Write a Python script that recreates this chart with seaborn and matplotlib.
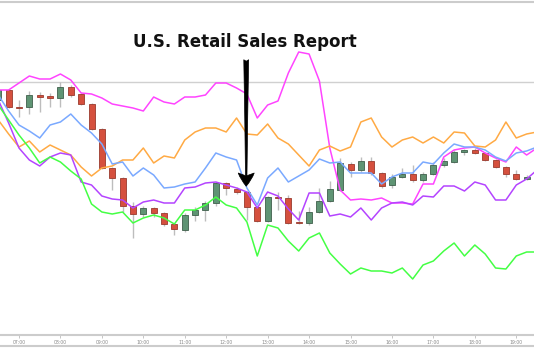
import matplotlib
matplotlib.use("Agg")
import numpy as np
import pandas as pd
import matplotlib.pyplot as plt
import matplotlib.dates as mdates
import seaborn as sns

# 15-minute bars, 06:30 .. 19:30
times = pd.date_range("2013-06-14 06:30", periods=53, freq="15min")

candle_open = [300, 310, 293, 293, 305, 304, 302, 313, 306, 296,
               271, 232, 222, 194, 186, 192, 187, 176, 170, 185,
               190, 197, 217, 211, 208, 193, 179, 203, 202, 178,
               177, 188, 199, 210, 236, 230, 239, 227, 215, 223,
               226, 220, 226, 235, 238, 248, 250, 247, 240, 233,
               226, 221]
candle_close = [310, 293, 292, 305, 303, 302, 313, 305, 296, 271,
                232, 222, 194, 186, 192, 187, 176, 171, 185, 190,
                197, 217, 212, 208, 193, 179, 203, 202, 177, 177,
                188, 199, 211, 237, 230, 239, 227, 214, 223, 226,
                220, 226, 235, 239, 248, 250, 247, 240, 233, 226,
                221, 223]
candle_high = [312, 311, 300, 309, 308, 307, 318, 315, 307, 297,
               272, 233, 223, 198, 194, 193, 188, 177, 187, 193,
               199, 218, 218, 213, 209, 194, 204, 208, 205, 189,
               193, 212, 219, 242, 238, 243, 243, 228, 226, 232,
               235, 228, 238, 242, 250, 251, 252, 248, 241, 234,
               230, 225]
candle_low = [298, 292, 283, 286, 288, 293, 293, 303, 295, 270,
              231, 210, 188, 162, 183, 183, 174, 165, 168, 179,
              179, 194, 205, 206, 180, 178, 178, 190, 176, 176,
              175, 187, 198, 209, 223, 228, 225, 212, 212, 222,
              218, 218, 225, 233, 237, 245, 246, 239, 232, 223,
              220, 220]

magenta_line = [310, 310, 317, 324, 321, 321, 326, 320, 307, 306,
                302, 296, 294, 292, 289, 303, 298, 296, 303, 303,
                305, 317, 317, 312, 306, 282, 295, 299, 327, 348,
                346, 319, 252, 210, 200, 201, 200, 202, 197, 197,
                196, 216, 216, 243, 250, 252, 253, 247, 242, 238,
                253, 245, 252]
orange_line = [280, 266, 253, 259, 248, 255, 250, 245, 233, 224,
               232, 234, 240, 240, 252, 237, 244, 242, 260, 268,
               272, 272, 268, 282, 266, 265, 276, 262, 256, 245,
               234, 250, 254, 249, 253, 278, 282, 263, 253, 260,
               263, 257, 263, 257, 268, 267, 254, 253, 260, 278,
               262, 266, 268]
blue_line = [305, 289, 275, 269, 262, 275, 278, 286, 275, 267,
             256, 236, 238, 224, 232, 225, 212, 213, 216, 218,
             232, 247, 243, 240, 212, 195, 222, 232, 218, 224,
             230, 241, 237, 238, 227, 227, 227, 216, 223, 227,
             227, 238, 236, 247, 256, 253, 253, 250, 243, 239,
             247, 249, 253]
purple_line = [300, 277, 252, 240, 234, 243, 247, 245, 218, 215,
               204, 201, 200, 192, 198, 200, 197, 197, 212, 213,
               217, 218, 215, 212, 208, 192, 208, 204, 191, 180,
               207, 207, 184, 186, 183, 192, 180, 192, 197, 198,
               195, 204, 203, 214, 214, 209, 218, 215, 200, 200,
               215, 221, 230]
green_line = [295, 280, 265, 252, 237, 243, 238, 229, 221, 196,
              188, 186, 188, 177, 182, 185, 182, 176, 190, 190,
              195, 203, 195, 192, 178, 144, 175, 172, 159, 149,
              162, 167, 147, 136, 126, 132, 129, 129, 127, 132,
              121, 135, 139, 149, 157, 144, 155, 146, 132, 131,
              144, 148, 148]

level_line = 318
event_time = pd.Timestamp("2013-06-14 12:29")
event_label = "U.S. Retail Sales Report"

series = {
    "magenta": (magenta_line, "#ff44ff"),
    "orange": (orange_line, "#ffaa44"),
    "blue": (blue_line, "#7aa9ff"),
    "purple": (purple_line, "#b444ff"),
    "green": (green_line, "#44ff44"),
}

sns.set_theme(style="white")
plt.rcParams["font.family"] = ["DejaVu Sans"]

fig = plt.figure(figsize=(5.34, 3.61), dpi=100)
ax = fig.add_axes([0, 26 / 361, 1, 333 / 361])

# candles
n = len(candle_open)
o = np.array(candle_open)
c = np.array(candle_close)
up = c >= o
body_color = np.where(up, "#5f9474", "#d5503e")
edge_color = np.where(up, "#3f5f4c", "#9a3a2d")
ax.vlines(times[:n], candle_low, candle_high, color="#bdbdbd", lw=1, zorder=2)
ax.bar(times[:n], c - o, bottom=o, width=8.7 / 1440, color=body_color,
       edgecolor=edge_color, linewidth=0.6, zorder=3)

# indicator lines
df = pd.DataFrame({
    "time": np.tile(times, len(series)),
    "value": np.concatenate([v for v, _ in series.values()]),
    "series": np.repeat(list(series.keys()), len(times)),
})
sns.lineplot(data=df, x="time", y="value", hue="series",
             palette={k: col for k, (_, col) in series.items()},
             legend=False, lw=1.1, ax=ax, zorder=4)

ax.axhline(level_line, color="#d0d0d0", lw=1, zorder=1)

# event annotation
ax.annotate("", xy=(event_time, 211), xytext=(event_time, 343),
            arrowprops=dict(arrowstyle="fancy,head_length=0.95,head_width=1.15,tail_width=0.35",
                            mutation_scale=10, fc="black", ec="black", lw=0.5),
            zorder=6)
ax.text(0.458, 0.88, event_label, transform=ax.transAxes, ha="center", va="center",
        fontsize=12, fontweight="bold", color="#111111")

ax.set_xlim(pd.Timestamp("2013-06-14 06:32:30"), pd.Timestamp("2013-06-14 19:25:40"))
ax.set_ylim(65, 398)
ax.xaxis.set_major_locator(mdates.HourLocator())
ax.xaxis.set_major_formatter(mdates.DateFormatter("%H:%M"))
ax.set_yticks([])
ax.set_xlabel("")
ax.set_ylabel("")
ax.tick_params(axis="x", length=2, width=0.6, color="#bbbbbb", pad=1.5,
               labelsize=3.3, labelcolor="#888888", bottom=True)
for side in ["left", "right"]:
    ax.spines[side].set_visible(False)
for side in ["top", "bottom"]:
    ax.spines[side].set_color("#cccccc")
    ax.spines[side].set_linewidth(1.5)

fig.add_artist(plt.Line2D([0, 1], [15 / 361, 15 / 361], transform=fig.transFigure,
                          color="#cccccc", lw=1.5))

fig.savefig("out.png", dpi=100)
